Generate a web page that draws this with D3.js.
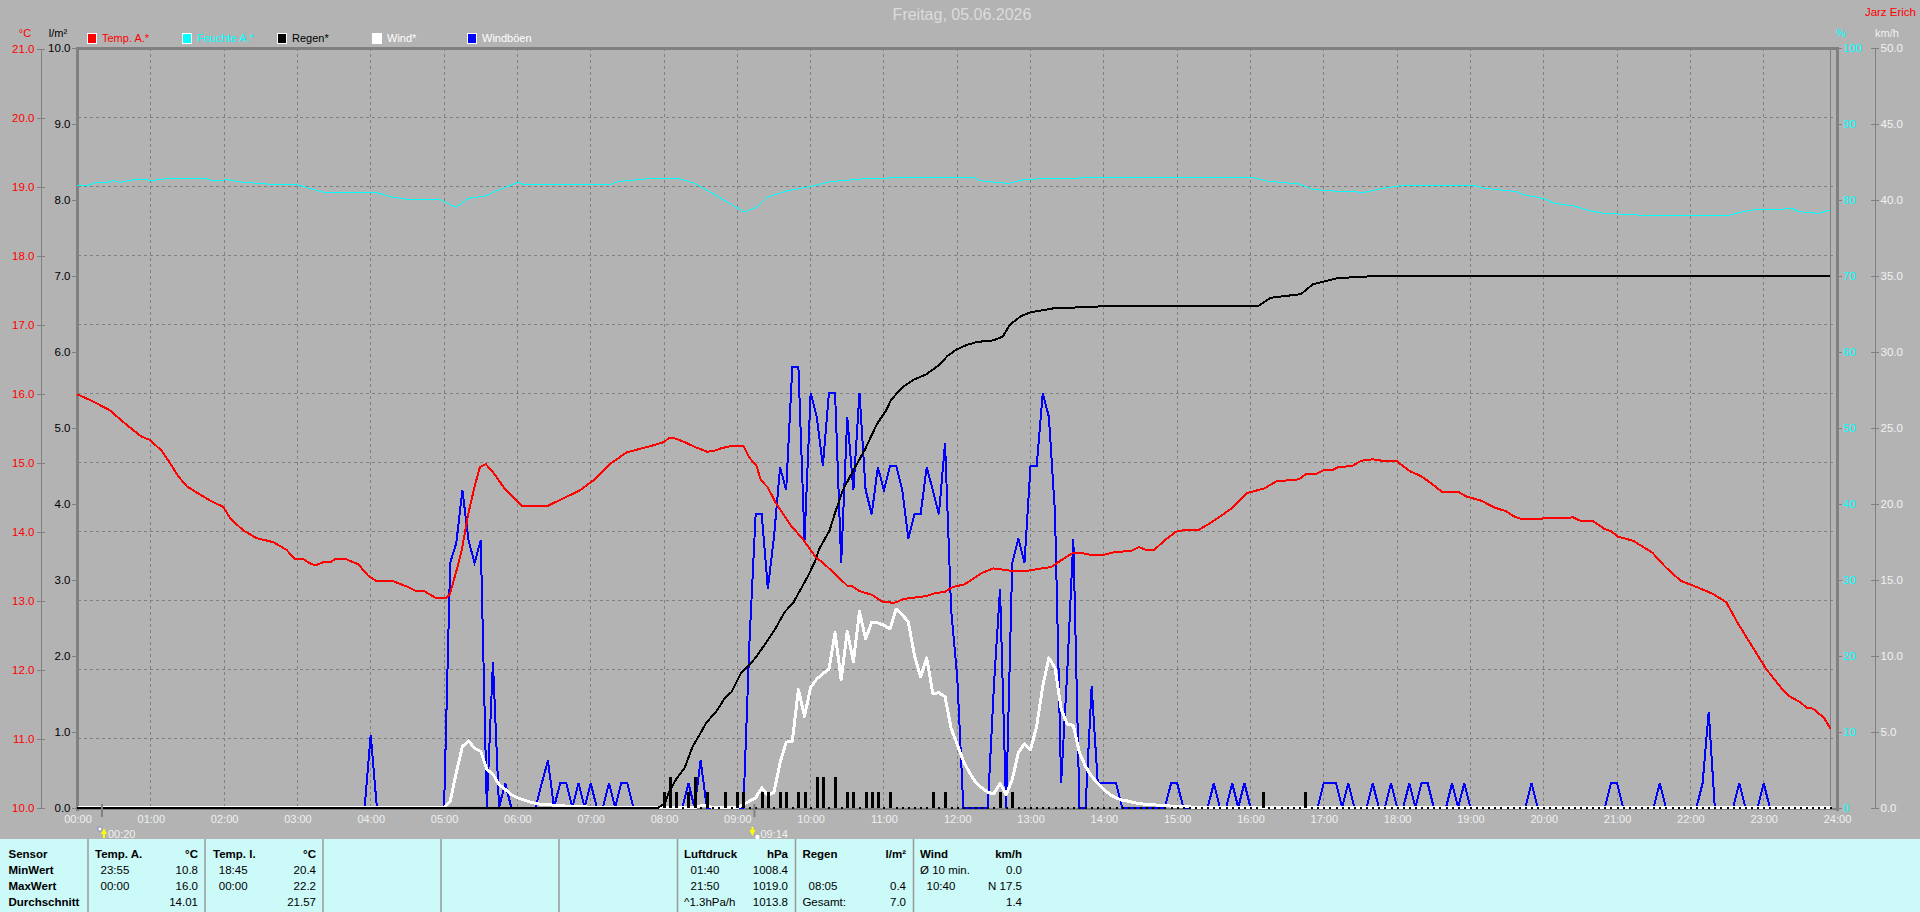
<!DOCTYPE html>
<html>
<head>
<meta charset="utf-8">
<title>Freitag, 05.06.2026</title>
<script src="https://cdnjs.cloudflare.com/ajax/libs/d3/7.8.5/d3.min.js"></script>
<style>
    html, body { margin: 0; padding: 0; background: #b3b3b3; overflow: hidden; }
    svg { display: block; }
    text { font-family: "Liberation Sans", Arial, sans-serif; }
</style>
</head>
<body>
<div id="svg"></div>
<script>
// values
const tempHours = [0,.21,.44,.67,.87,.99,1.15,1.26,1.37,1.49,1.67,1.83,1.99,2.08,2.26,2.44,2.67,2.85,2.97,3.09,3.19,3.26,3.35,3.45,3.51,3.67,3.83,3.96,4.07,4.32,4.51,4.62,4.73,4.89,5.02,5.08,5.17,5.24,5.33,5.42,5.49,5.57,5.67,5.83,6.06,6.42,6.62,6.85,7.03,7.26,7.49,7.81,8,8.07,8.16,8.3,8.44,8.59,8.68,8.78,8.94,9.08,9.16,9.26,9.32,9.41,9.53,9.73,9.89,10.07,10.16,10.35,10.51,10.57,10.67,10.83,10.98,11.14,11.28,11.58,11.69,11.83,11.94,12.1,12.33,12.49,12.58,12.76,12.94,13.03,13.28,13.42,13.57,13.71,13.85,14.01,14.16,14.37,14.48,14.57,14.69,14.82,14.98,15.12,15.28,15.44,15.57,15.74,15.95,16.19,16.35,16.66,16.75,16.9,16.99,17.11,17.2,17.38,17.51,17.67,17.85,18,18.17,18.32,18.47,18.62,18.83,18.95,19.15,19.33,19.48,19.6,19.71,19.86,20.31,20.4,20.5,20.68,20.83,20.92,21.01,21.22,21.48,21.66,21.87,22.11,22.31,22.49,22.64,22.82,23.03,23.23,23.35,23.5,23.59,23.67,23.82,23.91];
const tempValues = [15.99,15.89,15.76,15.55,15.38,15.33,15.17,15,14.81,14.66,14.54,14.44,14.36,14.2,14.02,13.91,13.85,13.74,13.6,13.6,13.53,13.52,13.56,13.56,13.6,13.6,13.53,13.37,13.29,13.28,13.2,13.14,13.14,13.04,13.04,13.1,13.44,13.73,14.26,14.67,14.94,14.98,14.86,14.62,14.38,14.38,14.48,14.6,14.74,14.98,15.15,15.24,15.3,15.36,15.35,15.29,15.22,15.16,15.17,15.21,15.25,15.25,15.08,14.96,14.75,14.65,14.41,14.09,13.9,13.63,13.56,13.37,13.21,13.21,13.14,13.09,12.99,12.97,13.03,13.07,13.11,13.13,13.2,13.24,13.4,13.47,13.46,13.43,13.43,13.45,13.49,13.59,13.69,13.69,13.66,13.67,13.71,13.72,13.78,13.74,13.74,13.87,14,14.03,14.02,14.12,14.21,14.34,14.56,14.63,14.73,14.76,14.83,14.84,14.89,14.89,14.94,14.95,15.03,15.05,15.02,15.02,14.88,14.81,14.7,14.57,14.58,14.51,14.45,14.35,14.3,14.22,14.18,14.19,14.2,14.21,14.16,14.15,14.04,14.01,13.93,13.87,13.7,13.49,13.29,13.19,13.1,12.98,12.69,12.38,12.02,11.75,11.62,11.53,11.45,11.44,11.31,11.15];

const humHours = [0,.16,.27,.39,.49,.59,.74,.94,1,1.14,1.25,1.72,1.88,2.04,2.23,2.59,2.98,3.13,3.35,4.07,4.27,4.47,4.94,5.03,5.17,5.33,5.56,5.72,6.01,6.07,6.58,7.25,7.37,7.6,7.83,8.19,8.42,8.7,9.01,9.09,9.26,9.4,9.68,10.03,10.27,10.74,11.13,12.07,12.23,12.3,12.58,12.7,12.89,13.2,13.64,13.72,16.03,16.23,16.66,16.85,17.05,17.56,17.8,18.03,19.05,19.21,19.64,19.72,19.99,20.15,20.42,20.62,20.82,21.29,22.54,22.66,22.85,23.4,23.48,23.76,23.87,23.91];
const humValues = [81.87,81.96,82.35,82.27,82.53,82.31,82.62,82.7,82.53,82.7,82.84,82.88,82.48,82.66,82.35,82.09,82.05,81.61,81.04,81,80.42,80.11,80.07,79.63,79.02,80.2,80.5,81.2,82.31,82.09,82.05,81.96,82.4,82.62,82.84,82.84,82.18,80.64,78.89,78.4,79.02,80.33,81.2,81.83,82.4,82.79,82.9,82.97,82.97,82.53,82.27,82.18,82.62,82.84,82.84,82.97,82.97,82.48,82.09,81.39,81.2,81,81.52,81.83,81.87,81.52,81.08,80.69,80.2,79.54,79.19,78.58,78.23,78.01,78.01,78.32,78.67,78.84,78.45,78.23,78.58,78.58];

const rainHours = [0,7.92,8.01,8.07,8.17,8.28,8.39,8.48,8.58,8.71,8.83,8.92,9.05,9.24,9.4,9.51,9.65,9.76,9.96,10.06,10.12,10.26,10.33,10.44,10.6,10.74,10.9,11.03,11.1,11.26,11.4,11.57,11.76,11.86,11.99,12.13,12.27,12.49,12.62,12.72,12.87,13,13.3,14,16.1,16.27,16.69,16.85,17.19,17.75,23.91];
const rainTotal = [0,0,.05,.21,.38,.52,.8,.95,1.12,1.26,1.44,1.52,1.77,1.96,2.18,2.34,2.58,2.69,3.04,3.24,3.41,3.65,3.87,4.18,4.47,4.71,5.04,5.23,5.37,5.54,5.63,5.7,5.83,5.94,6.03,6.09,6.13,6.15,6.2,6.36,6.47,6.52,6.57,6.6,6.6,6.71,6.76,6.89,6.97,7,7];

// five minute samples, one row per hour
const rainSteps = [
    0,0,0,0,0,0,0,0,0,0,0,0, 0,0,0,0,0,0,0,0,0,0,0,0,
    0,0,0,0,0,0,0,0,0,0,0,0, 0,0,0,0,0,0,0,0,0,0,0,0,
    0,0,0,0,0,0,0,0,0,0,0,0, 0,0,0,0,0,0,0,0,0,0,0,0,
    0,0,0,0,0,0,0,0,0,0,0,0, 0,0,0,0,0,0,0,0,0,0,0,0,
    .2,.4,.2,0,.2,.4,0,.2,0,0,.2,0,
    .2,.2,0,0,.2,.2,0,.2,.2,0,.2,.2,
    0,.4,.4,0,.4,0,.2,.2,0,.2,.2,.2,
    0,.2,0,0,0,0,0,0,.2,0,.2,0,
    0,0,0,0,0,0,0,.2,0,.2,0,0,
    0,0,0,0,0,0,0,0,0,0,0,0, 0,0,0,0,0,0,0,0,0,0,0,0, 0,0,0,0,0,0,0,0,0,0,0,0,
    0,0,.2,0,0,0,0,0,0,.2,0,0,
    0,0,0,0,0,0,0,0,0,0,0,0, 0,0,0,0,0,0,0,0,0,0,0,0, 0,0,0,0,0,0,0,0,0,0,0,0,
    0,0,0,0,0,0,0,0,0,0,0,0, 0,0,0,0,0,0,0,0,0,0,0,0, 0,0,0,0,0,0,0,0,0,0,0,0,
    0,0,0,0,0,0,0,0,0,0,0,0
];

const windValues = [
    0,0,0,0,0,0,0,0,0,0,0,0,
    0,0,0,0,0,0,0,0,0,0,0,0,
    0,0,0,0,0,0,0,0,0,0,0,0,
    0,0,0,0,0,0,0,0,0,0,0,0,
    0,0,0,0,0,0,0,0,0,0,0,0,
    0,.4,2.3,4,4.4,3.9,3.7,2.5,2.2,1.5,1.2,.85,
    .64,.5,.37,.26,.2,.2,.15,.13,.09,.08,.07,.05,
    0,0,0,0,0,0,0,0,0,0,0,0,
    0,0,0,0,0,0,.1,.1,0,0,0,0,
    0,.2,.42,.64,1.3,.8,1,2.95,4.3,4.37,7.76,6,
    7.9,8.46,8.8,9.1,11.5,8.4,11.6,9.6,12.9,11.1,12.2,12.15,
    12,11.75,13.07,12.7,12.2,10,8.6,9.85,7.5,7.55,7.3,5.2,
    4.15,3.05,2.3,1.66,1.3,1,.9,1.6,.85,1.84,3.6,4.2,
    3.8,5.35,8,9.85,9.2,6.5,5.5,5.4,3.6,2.7,2.05,1.6,
    1.18,.85,.64,.48,.42,.31,.25,.2,.18,.15,.13,.09,
    .09,.07,.04,0,0,0,0,0,0,0,0,0,
    0,0,0,0,0,0,0,0,0,0,0,0, 0,0,0,0,0,0,0,0,0,0,0,0,
    0,0,0,0,0,0,0,0,0,0,0,0, 0,0,0,0,0,0,0,0,0,0,0,0,
    0,0,0,0,0,0,0,0,0,0,0,0, 0,0,0,0,0,0,0,0,0,0,0,0,
    0,0,0,0,0,0,0,0,0,0,0,0, 0,0,0,0,0,0,0,0,0,0,0,0
];

const gustValues = [
    0,0,0,0,0,0,0,0,0,0,0,0,
    0,0,0,0,0,0,0,0,0,0,0,0,
    0,0,0,0,0,0,0,0,0,0,0,0,
    0,0,0,0,0,0,0,0,0,0,0,0,
    4.8,0,0,0,0,0,0,0,0,0,0,0,
    0,16.1,17.4,20.9,17.6,16.1,17.6,0,9.6,0,1.6,0,
    0,0,0,0,1.6,3.1,0,1.6,1.6,0,1.6,0,
    1.6,0,0,1.6,0,1.6,1.6,0,0,0,0,0,
    0,0,0,0,1.6,0,3.1,0,0,0,0,0,
    0,0,11,19.3,19.3,14.4,17.8,22.4,20.9,29,29,17.6,
    27.3,25.7,22.5,27.3,27.3,16.1,25.7,20.9,27.3,20.9,19.3,22.4,
    20.9,22.5,22.5,20.9,17.7,19.3,19.3,22.4,20.9,19.3,24,13,
    8.6,0,0,0,0,0,8,14.4,0,16.1,17.7,16.1,
    22.5,22.5,27.3,25.7,19.4,1.6,8.9,17.7,0,0,8,1.6,
    1.6,1.6,1.6,0,0,0,0,0,0,0,0,1.6,
    1.6,0,0,0,0,0,1.6,0,0,1.6,0,1.6,
    0,0,0,0,0,0,0,0,0,0,0,0,
    1.6,1.6,1.6,0,1.6,0,0,0,1.6,0,0,1.6,
    0,0,1.6,0,1.6,1.6,0,0,0,1.6,0,1.6,
    0,0,0,0,0,0,0,0,0,0,1.6,0,
    0,0,0,0,0,0,0,0,0,0,0,1.6,
    1.6,0,0,0,0,0,0,1.6,0,0,0,0,
    0,0,1.6,6.3,0,0,0,0,1.6,0,0,0,
    1.6,0,0,0,0,0,0,0,0,0,0,0
];

const hourTicks = d3.range(0, 25);
const tempTicks = d3.range(10, 22);
const rainTicks = d3.range(0, 11);
const humTicks = d3.range(0, 101, 10);
const windTicks = d3.range(0, 51, 5);

const legendNames = ["Temp. A.*", "Feuchte A.*", "Regen*", "Wind*", "Windböen"];
const legendColors = ["#ff0000", "#00ffff", "#000000", "#ffffff", "#0000ff"];
const legendText = ["#ff0000", "#00ffff", "#000000", "#ffffff", "#ffffff"];

const sunHours = [20 / 60, 9 + 14 / 60];
const sunLabels = ["00:20", "09:14"];

const tableHeads = ["Sensor", "Temp. A.", "°C", "Temp. I.", "°C", "Luftdruck", "hPa", "Regen", "l/m²", "Wind", "km/h"];
const tableRows = [
    ["MinWert", "23:55", "10.8", "18:45", "20.4", "01:40", "1008.4", "", "", "Ø 10 min.", "0.0"],
    ["MaxWert", "00:00", "16.0", "00:00", "22.2", "21:50", "1019.0", "08:05", "0.4", "10:40", "N 17.5"],
    ["Durchschnitt", "", "14.01", "", "21.57", "^1.3hPa/h", "1013.8", "Gesamt:", "7.0", "", "1.4"]
];

const DVizModule = (() => {

    const width = 1920,
        height = 912,
        margin = { top: 48, right: 83, bottom: 104.5, left: 77.5 },
        bg = "#b3b3b3",
        axisGray = "#808080";

    const svg = d3.select("#svg")
        .append("svg")
        .attr("width", width)
        .attr("height", height);

    const xScale = d3.scaleLinear().domain([0, 24]).range([margin.left, width - margin.right]);
    const yBottom = height - margin.bottom;
    const tempScale = d3.scaleLinear().domain([10, 21]).range([yBottom + .5, margin.top + .5]);
    const rainScale = d3.scaleLinear().domain([0, 10]).range([yBottom, margin.top]);
    const humScale = d3.scaleLinear().domain([0, 100]).range([yBottom, margin.top]);
    const windScale = d3.scaleLinear().domain([0, 50]).range([yBottom, margin.top]);

    const stepHour = i => i / 12;

    function background() {
        svg.append("rect").attr("width", width).attr("height", height).attr("fill", bg);
        svg.append("rect").attr("y", 839).attr("width", width).attr("height", height - 839).attr("fill", "#ccfaf8");
    }

    function grid() {
        const g = svg.append("g")
            .attr("stroke", axisGray)
            .attr("stroke-dasharray", "3,3")
            .attr("shape-rendering", "crispEdges");
        g.selectAll(".v").data(hourTicks.slice(1, -1)).join("line")
            .attr("x1", d => xScale(d)).attr("x2", d => xScale(d))
            .attr("y1", margin.top).attr("y2", yBottom);
        g.selectAll(".h").data(tempTicks.slice(1, -1)).join("line")
            .attr("x1", margin.left).attr("x2", xScale(24))
            .attr("y1", d => tempScale(d)).attr("y2", d => tempScale(d));
    }

    function frame() {
        const g = svg.append("g").attr("stroke", axisGray).attr("shape-rendering", "crispEdges");
        g.append("line").attr("x1", margin.left).attr("x2", margin.left)
            .attr("y1", margin.top - 1).attr("y2", yBottom + 3).attr("stroke-width", 3);
        g.append("line").attr("x1", xScale(24)).attr("x2", xScale(24))
            .attr("y1", margin.top - 1).attr("y2", yBottom + 3).attr("stroke-width", 3);
        g.append("line").attr("x1", margin.left).attr("x2", xScale(24))
            .attr("y1", margin.top).attr("y2", margin.top).attr("stroke-width", 3);
        g.append("line").attr("x1", margin.left).attr("x2", xScale(24))
            .attr("y1", yBottom + 1.5).attr("y2", yBottom + 1.5).attr("stroke-width", 2);
        // thin line at the last sample
        g.append("line").attr("x1", xScale(tempHours[tempHours.length - 1])).attr("x2", xScale(tempHours[tempHours.length - 1]))
            .attr("y1", margin.top).attr("y2", yBottom).attr("stroke-width", 1);
    }

    function styleAxis(g, color, fontSize) {
        g.attr("font-family", null).attr("font-size", null);
        g.selectAll("text").attr("fill", color).attr("font-size", fontSize);
        g.selectAll("line").attr("stroke", axisGray).attr("shape-rendering", "crispEdges");
        g.select(".domain").attr("stroke", axisGray).attr("shape-rendering", "crispEdges");
    }

    function axes() {
        const fmt1 = d3.format(".1f");

        const tempAxis = svg.append("g").attr("transform", "translate(40.5,0)")
            .call(d3.axisLeft(tempScale).tickValues(tempTicks).tickFormat(fmt1).tickSize(4).tickPadding(2).tickSizeOuter(0))
            .call(g => styleAxis(g, "#ff0000", "11.5px"));
        tempAxis.selectAll(".tick line").attr("x2", -4).attr("x1", 4);

        const rainAxis = svg.append("g").attr("transform", `translate(${margin.left},0)`)
            .call(d3.axisLeft(rainScale).tickValues(rainTicks).tickFormat(fmt1).tickSize(6).tickPadding(1).tickSizeOuter(0))
            .call(g => styleAxis(g, "#000000", "11.5px"));
        rainAxis.select(".domain").remove();

        const humAxis = svg.append("g").attr("transform", `translate(${xScale(24)},0)`)
            .call(d3.axisRight(humScale).tickValues(humTicks).tickSize(5).tickPadding(1).tickSizeOuter(0))
            .call(g => styleAxis(g, "#00ffff", "11.5px"));
        humAxis.select(".domain").remove();

        const windAxis = svg.append("g").attr("transform", "translate(1874.5,0)")
            .call(d3.axisRight(windScale).tickValues(windTicks).tickFormat(fmt1).tickSize(4).tickPadding(2).tickSizeOuter(0))
            .call(g => styleAxis(g, "#f2f2f2", "11.5px"));
        windAxis.selectAll(".tick line").attr("x1", -4);

        const hourAxis = svg.append("g").attr("transform", `translate(0,${yBottom})`)
            .call(d3.axisBottom(xScale).tickValues(hourTicks).tickFormat(d => d3.format("02")(d) + ":00").tickSize(0).tickPadding(8).tickSizeOuter(0))
            .call(g => styleAxis(g, "#f0f0f0", "11px"));
        hourAxis.select(".domain").remove();
    }

    function marks() {
        const gust = d3.line().x((d, i) => xScale(stepHour(i))).y(d => windScale(d));
        const temp = d3.line().x((d, i) => xScale(tempHours[i])).y(d => tempScale(d));
        const hum = d3.line().x((d, i) => xScale(humHours[i])).y(d => humScale(d));
        const rain = d3.line().x((d, i) => xScale(rainHours[i])).y(d => rainScale(d));

        const g = svg.append("g")
            .attr("fill", "none")
            .attr("shape-rendering", "crispEdges");

        g.append("path").attr("d", gust(gustValues)).attr("stroke", "#0000ff").attr("stroke-width", 2);
        g.append("path").attr("d", gust(windValues)).attr("stroke", "#ffffff").attr("stroke-width", 3)
            .attr("stroke-linejoin", "round");

        // a dry five minutes still leaves a dot on the base line
        g.append("g").attr("fill", "#000000").selectAll("rect")
            .data(rainSteps)
            .join("rect")
            .attr("x", (d, i) => xScale(stepHour(i)) - (d > 0 ? 1 : .5))
            .attr("width", d => d > 0 ? 3 : 2)
            .attr("y", d => d > 0 ? rainScale(d) : yBottom - 1)
            .attr("height", d => d > 0 ? yBottom - rainScale(d) : 2);

        g.append("path").attr("d", rain(rainTotal)).attr("stroke", "#000000").attr("stroke-width", 2);
        g.append("path").attr("d", hum(humValues)).attr("stroke", "#00ffff").attr("stroke-width", 1);
        g.append("path").attr("d", temp(tempValues)).attr("stroke", "#ff0000").attr("stroke-width", 2);
    }

    function labels() {
        svg.append("text").attr("x", 962).attr("y", 20).attr("text-anchor", "middle")
            .attr("fill", "#dcdcdc").attr("font-size", "16px").text("Freitag, 05.06.2026");
        svg.append("text").attr("x", 1916).attr("y", 16).attr("text-anchor", "end")
            .attr("fill", "#ff0000").attr("font-size", "11.5px").text("Jarz Erich");

        const units = [[25, "°C", "#ff0000"], [58, "l/m²", "#000000"], [1841, "%", "#00ffff"], [1887, "km/h", "#f2f2f2"]];
        svg.append("g").selectAll("text").data(units).join("text")
            .attr("x", d => d[0]).attr("y", 37).attr("text-anchor", "middle")
            .attr("font-size", "11px").attr("fill", d => d[2]).text(d => d[1]);

        const legend = svg.append("g").selectAll("g").data(legendNames).join("g")
            .attr("transform", (d, i) => `translate(${87.5 + i * 95},0)`);
        legend.append("rect").attr("y", 33.5).attr("width", 9).attr("height", 10)
            .attr("fill", (d, i) => legendColors[i]).attr("stroke", "#ffffff").attr("shape-rendering", "crispEdges");
        legend.append("text").attr("x", 14.5).attr("y", 42).attr("font-size", "11px")
            .attr("fill", (d, i) => legendText[i]).text(d => d);
    }

    function sunMarks() {
        const g = svg.append("g").selectAll("g").data(sunHours).join("g")
            .attr("transform", d => `translate(${xScale(d)},0)`);
        g.append("line").attr("y1", 804).attr("y2", 817).attr("stroke", axisGray).attr("stroke-width", 2);
        g.append("text").attr("x", 6).attr("y", 838).attr("font-size", "11px").attr("fill", "#f0f0f0")
            .text((d, i) => sunLabels[i]);
        // arrow up at the first mark, down at the second
        g.append("path")
            .attr("d", (d, i) => i === 0 ? "M2,828L-1,834H1V838H3V834H5Z" : "M-2,836L1,830H-1V827H-3V830H-5Z")
            .attr("fill", "#ffff00");
        g.append("circle")
            .attr("cx", (d, i) => i === 0 ? -2 : 3).attr("cy", (d, i) => i === 0 ? 829 : 837).attr("r", 2.2)
            .attr("fill", "#ffffff").attr("stroke", (d, i) => i === 0 ? "#8080c0" : "none");
    }

    function table() {
        const sepX = [88, 205, 323, 441, 559, 677.5, 795.5, 913.5];
        svg.append("g").selectAll("line").data(sepX).join("line")
            .attr("x1", d => d).attr("x2", d => d).attr("y1", 839).attr("y2", height)
            .attr("stroke", "#9a9a9a").attr("stroke-width", 1.5);

        // left edge and anchor of each table column
        const headX = [8.5, 95, 198, 213, 316, 684, 788, 802.4, 906, 920, 1022];
        const cellX = [8.5, 100.5, 198, 218.8, 316, 690.6, 788, 808.6, 906, 926.5, 1022];
        const anchor = ["start", "start", "end", "start", "end", "start", "end", "start", "end", "start", "end"];
        const rowY = [870, 886, 902];

        svg.append("g").selectAll("text").data(tableHeads).join("text")
            .attr("x", (d, i) => headX[i]).attr("y", 858).attr("text-anchor", (d, i) => anchor[i])
            .attr("font-size", "11.5px").attr("font-weight", "bold").attr("fill", "#000").text(d => d);

        tableRows.forEach((row, r) => {
            svg.append("g").selectAll("text").data(row).join("text")
                .attr("x", (d, i) => (d === "Ø 10 min." || d === "^1.3hPa/h" || d === "Gesamt:") ? headX[i] : cellX[i])
                .attr("y", rowY[r] + 4).attr("text-anchor", (d, i) => anchor[i])
                .attr("font-size", "11.5px").attr("font-weight", (d, i) => i === 0 ? "bold" : "normal")
                .attr("fill", "#000").text(d => d);
        });
    }

    background();
    grid();
    axes();
    frame();
    marks();
    labels();
    sunMarks();
    table();
})();
</script>
</body>
</html>
